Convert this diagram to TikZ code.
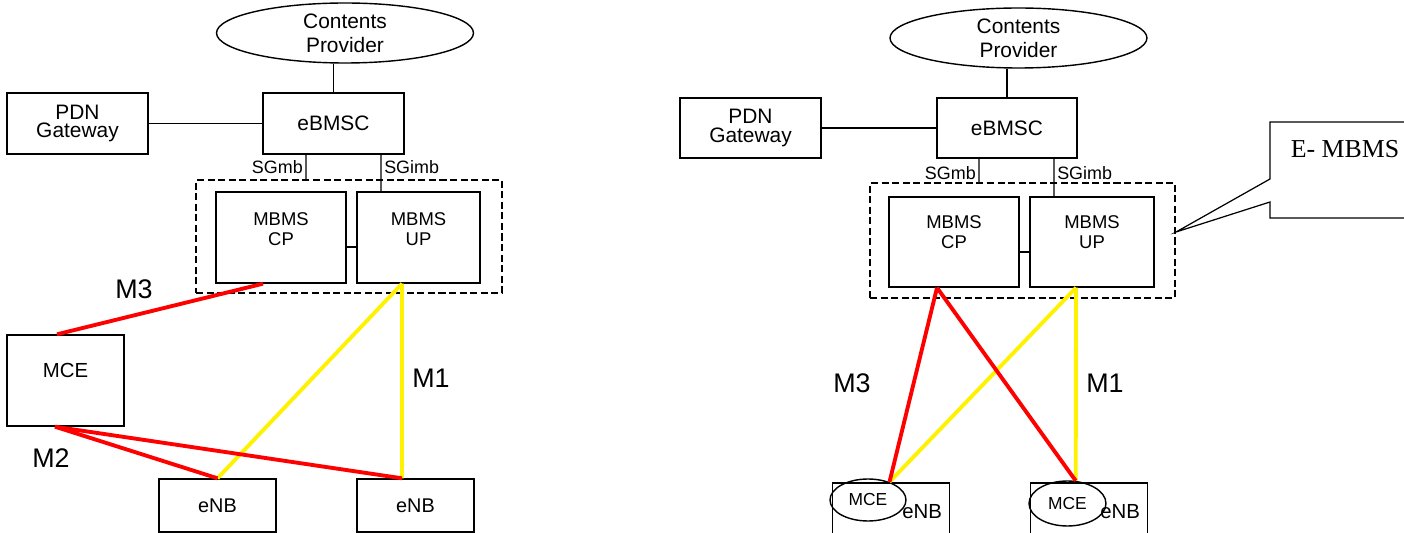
\documentclass[tikz,border=0pt]{standalone}
\usepackage{fontspec}
\setmainfont{Liberation Sans}
\newfontfamily\timesface{Liberation Serif}
\usetikzlibrary{shapes.geometric}

\begin{document}
\begin{tikzpicture}[x=0.02cm,y=-0.02cm,line width=0.7pt,
	main node/.style={draw,rectangle,line width=0.8pt,minimum width=2.82cm,minimum height=1.22cm,inner sep=1pt,align=center,font=\fontsize{11.9pt}{13.6pt}\selectfont},
	cloud node/.style={draw,ellipse,line width=0.8pt,minimum width=5.14cm,minimum height=1.2cm,inner sep=0pt,align=center,font=\fontsize{11.9pt}{13.6pt}\selectfont},
	group node/.style={draw,rectangle,line width=1.2pt,dash pattern=on 4pt off 2pt,inner sep=0pt},
	unit node/.style={draw,rectangle,line width=0.8pt,minimum height=1.82cm,inner sep=0pt},
	unit text/.style={align=center,font=\fontsize{10.5pt}{11.3pt}\selectfont,yshift=0.17cm},
	enb node/.style={draw,rectangle,line width=0.8pt,minimum width=2.34cm,minimum height=1.06cm,inner sep=0pt,font=\fontsize{11.3pt}{13pt}\selectfont},
	mce node/.style={draw,ellipse,line width=0.8pt,inner sep=0pt,font=\fontsize{9.9pt}{12pt}\selectfont},
	if label/.style={font=\fontsize{10.2pt}{12pt}\selectfont,inner sep=1.5pt},
	m label/.style={font=\fontsize{15.3pt}{18pt}\selectfont},
	link/.style={draw,line width=0.7pt},
	m3 line/.style={red,line width=2.2pt},
	m1 line/.style={yellow,line width=2.2pt}]

	\clip (0,0) rectangle (1404,533);

	% left: MCE as a box of its own
	\node[cloud node] (cpvL) at (345,33) {Contents\\Provider};
	\node[main node,font=\fontsize{11.9pt}{10.4pt}\selectfont] (pdnL) at (77.5,123.5) {PDN\\Gateway};
	\node[main node] (ebL) at (333.5,123.5) {eBMSC};
	\node[group node,minimum width=6.12cm,minimum height=2.26cm] (grpL) at (349,236.5) {};
	\node[unit node,minimum width=2.6cm,label={[unit text]center:MBMS\\CP}] (cpL) at (281,237.5) {};
	\node[unit node,minimum width=2.46cm,label={[unit text]center:MBMS\\UP}] (upL) at (418.5,237.5) {};
	\node[unit node,minimum width=2.34cm,label={[unit text,yshift=0.03cm,font=\fontsize{11.6pt}{13pt}\selectfont]center:MCE}] (mceL) at (65.5,380.5) {};
	\node[enb node] (enbLa) at (217.5,505.5) {eNB};
	\node[enb node] (enbLb) at (415.5,505.5) {eNB};

	\path[link]
	(ebL) edge (pdnL)
	(ebL.north) edge (ebL.north |- cpvL.south)
	([xshift=-0.55cm]ebL.south) edge node[if label,left] {SGmb} ([xshift=-0.86cm]grpL.north)
	([xshift=0.95cm]ebL.south) edge node[if label,right,pos=.34] {SGimb} ([xshift=-0.75cm]upL.north)
	([yshift=-0.19cm]cpL.east) edge ([yshift=-0.19cm]upL.west);

	\draw[m1 line] ([xshift=-0.33cm]upL.south) -- (enbLa.north);
	\draw[m1 line] ([xshift=-0.33cm]upL.south) -- ([xshift=-0.27cm]enbLb.north);
	\draw[m3 line] ([xshift=-0.36cm]cpL.south) -- ([xshift=-0.17cm]mceL.north);
	\draw[m3 line] ([xshift=-0.21cm]mceL.south) -- (enbLa.north);
	\draw[m3 line] ([xshift=-0.21cm]mceL.south) -- ([xshift=-0.27cm]enbLb.north);

	\node[m label] (m3L) at (134,289) {M3};
	\node[m label] (m1L) at (431,378) {M1};
	\node[m label] (m2L) at (51,458) {M2};

	% right: MCE inside the eNB
	\node[cloud node] (cpvR) at (1018.5,38) {Contents\\Provider};
	\node[main node,minimum height=1.2cm,font=\fontsize{11.9pt}{10.4pt}\selectfont] (pdnR) at (750.5,128) {PDN\\Gateway};
	\node[main node,minimum width=2.8cm,minimum height=1.2cm] (ebR) at (1007,128) {eBMSC};
	\node[group node,minimum width=6.1cm,minimum height=2.3cm] (grpR) at (1022.5,240.5) {};
	\node[unit node,minimum width=2.6cm,minimum height=1.8cm,label={[unit text,yshift=0.03cm]center:MBMS\\CP}] (cpR) at (954,242) {};
	\node[unit node,minimum width=2.48cm,minimum height=1.8cm,label={[unit text,yshift=0.03cm]center:MBMS\\UP}] (upR) at (1092,242) {};
	\node[enb node,align=right,text width=2.04cm,inner xsep=0.14cm,minimum height=1.16cm,font=\fontsize{11.6pt}{13pt}\selectfont] (enbRa) at (891,512) {eNB};
	\node[enb node,align=right,text width=2.04cm,inner xsep=0.14cm,minimum height=1.16cm,font=\fontsize{11.6pt}{13pt}\selectfont] (enbRb) at (1089,512) {eNB};
	\node[mce node,minimum width=1.52cm,minimum height=0.84cm] (mceRa) at (868,500) {MCE};
	\node[mce node,minimum width=1.54cm,minimum height=0.9cm] (mceRb) at (1067.5,503.5) {MCE};

	\path[link]
	(ebR) edge (pdnR)
	(ebR.north) edge (ebR.north |- cpvR.south)
	([xshift=-0.56cm]ebR.south) edge node[if label,left,pos=.6] {SGmb} ([xshift=-0.87cm]grpR.north)
	([xshift=0.94cm]ebR.south) edge node[if label,right,pos=.38] {SGimb} ([xshift=-0.76cm]upR.north)
	([yshift=-0.2cm]cpR.east) edge ([yshift=-0.2cm]upR.west);

	\draw[m1 line] ([xshift=-0.32cm]upR.south) -- (mceRa.40);
	\draw[m1 line] ([xshift=-0.32cm]upR.south) -- (mceRb.70);
	\draw[m3 line] ([xshift=-0.34cm]cpR.south) -- (mceRa.40);
	\draw[m3 line] ([xshift=-0.34cm]cpR.south) -- (mceRb.70);

	\node[m label] (m3R) at (852,383) {M3};
	\node[m label] (m1R) at (1105,383) {M1};

	% callout
	\draw[link] (1410,122) -- (1270,122) -- (1270,179) -- ([yshift=0.17cm]grpR.east) -- (1270,202) -- (1270,218) -- (1410,218);
	\node[font=\timesface\fontsize{14.7pt}{17pt}\selectfont,anchor=base] (embR) at (1345,158) {E- MBMS};
\end{tikzpicture}
\end{document}
